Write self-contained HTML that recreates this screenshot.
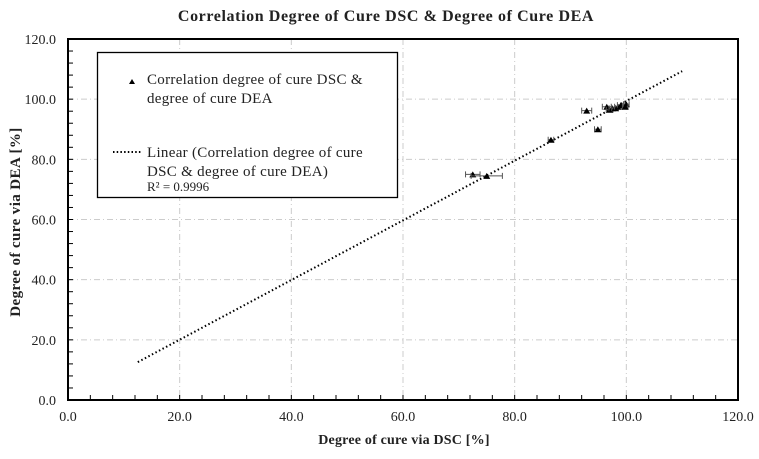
<!DOCTYPE html>
<html><head><meta charset="utf-8"><style>
body{margin:0;background:#fff}
svg text{font-family:"Liberation Serif",serif;fill:#222}
</style></head><body>
<svg width="759" height="454" xmlns="http://www.w3.org/2000/svg">
<text x="386" y="21" text-anchor="middle" font-size="16" font-weight="bold" letter-spacing="0.6">Correlation Degree of Cure DSC &amp; Degree of Cure DEA</text>
<g id="grid"></g>
<g id="axes"></g>
<g id="marks"></g>
<text x="404" y="444" text-anchor="middle" font-size="14" font-weight="bold" letter-spacing="0.2">Degree of cure via DSC [%]</text>
<text transform="translate(20,222) rotate(-90)" text-anchor="middle" font-size="15" font-weight="bold" letter-spacing="0.4">Degree of cure via DEA [%]</text>
<g>
<rect x="97.5" y="52.5" width="300" height="145" fill="#fff" stroke="#000" stroke-width="1.3"/>
<path d="M129,84 l3,-5 l3,5z" fill="#000"/>
<text x="147" y="84" font-size="15" letter-spacing="0.3"><tspan x="147">Correlation degree of cure DSC &amp;</tspan><tspan x="147" dy="19">degree of cure DEA</tspan></text>
<line x1="113" y1="152" x2="142" y2="152" stroke="#000" stroke-width="2" stroke-dasharray="1.5 2.2"/>
<text x="147" y="157" font-size="15" letter-spacing="0.3"><tspan x="147">Linear (Correlation degree of cure</tspan><tspan x="147" dy="19">DSC &amp; degree of cure DEA)</tspan></text>
<text x="147" y="191" font-size="13">R² = 0.9996</text>
</g>
</svg>
<script>
const xTicks=[0,20,40,60,80,100,120];
const yTicks=[0,20,40,60,80,100,120];
const dsc=[72.5,75.0,86.5,92.9,94.9,96.5,97.0,97.5,98.0,98.5,99.0,100.0,99.8];
const dea=[75.0,74.5,86.5,96.2,90.0,97.5,96.5,97.0,97.0,97.5,98.0,98.3,97.5];
const dscErr=[1.3,2.8,0.5,0.9,0.6,0.8,0.6,0.6,0.6,0.6,0.6,0.5,0.5];
const trendX=[12.5,110];
const trendY=[12.6,109.3];
const X=v=>68+v*(738-68)/120, Y=v=>400-v*(400-39)/120;
const NS='http://www.w3.org/2000/svg';
function mk(p,t,a){const e=document.createElementNS(NS,t);for(const k in a)e.setAttribute(k,a[k]);p.appendChild(e);return e;}
const grid=document.getElementById('grid'),axes=document.getElementById('axes'),marks=document.getElementById('marks');
xTicks.forEach(v=>{if(v>0&&v<120){const l=mk(grid,'line',{x1:X(v),x2:X(v),y1:39,y2:400,stroke:'#ccc','stroke-dasharray':'6 3 1 3'});

}
const t=mk(axes,'text',{x:X(v),y:421,'text-anchor':'middle','font-size':'14'});t.textContent=v.toFixed(1);

});
yTicks.forEach(v=>{if(v>0&&v<120){const l=mk(grid,'line',{x1:68,x2:738,y1:Y(v),y2:Y(v),stroke:'#ccc','stroke-dasharray':'6 3 1 3'});

}
const t=mk(axes,'text',{x:56,y:Y(v)+5,'text-anchor':'end','font-size':'14'});t.textContent=v.toFixed(1);

});
for(let v=0;v<=120;v+=4){mk(axes,'line',{x1:X(v),x2:X(v),y1:400,y2:395,stroke:'#000'});mk(axes,'line',{x1:68,x2:73,y1:Y(v),y2:Y(v),stroke:'#000'});}
const fr=mk(axes,'rect',{x:68,y:39,width:670,height:361,fill:'none',stroke:'#000','stroke-width':'2'});


const tl=mk(marks,'line',{x1:X(trendX[0]),y1:Y(trendY[0]),x2:X(trendX[1]),y2:Y(trendY[1]),stroke:'#000','stroke-width':'2','stroke-dasharray':'1.5 2.5'});


dsc.forEach((d,i)=>{const x=X(d),y=Y(dea[i]),x1=X(d-dscErr[i]),x2=X(d+dscErr[i]);
const g=mk(marks,'g',{});


mk(g,'path',{d:`M${x1},${y}H${x2}M${x1},${y-3}v6M${x2},${y-3}v6`,stroke:'#555','stroke-width':'1',fill:'none'});
mk(g,'path',{d:`M${x-3.5},${y+3}l3.5,-6l3.5,6z`,fill:'#000'});});
</script>
</body></html>
